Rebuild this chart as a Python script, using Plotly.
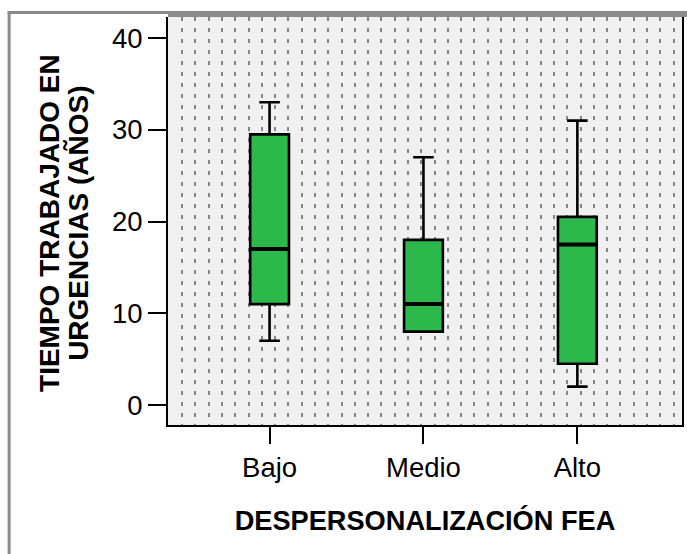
import plotly.graph_objects as go

# ---- data ----
categories = ["Bajo", "Medio", "Alto"]
lower_whisker = [7, 8, 2]
q1_values = [11, 8, 4.5]
median_values = [17, 11, 17.5]
q3_values = [29.5, 18, 20.5]
upper_whisker = [33, 27, 31]
y_ticks = [0, 10, 20, 30, 40]

x_title = "DESPERSONALIZACIÓN FEA"
y_title_lines = ["TIEMPO TRABAJADO EN", "URGENCIAS (AÑOS)"]

positions = list(range(len(categories)))

# ---- layout constants (styling) ----
W, H = 687, 554
ML, MR, MT, MB = 168, 3, 17, 129
PW, PH = W - ML - MR, H - MT - MB
FONT = "Liberation Sans, Arial, sans-serif"
GREEN = "#2db84b"
BOX_W = 0.252


def px_to_paper_x(px):
    return (px - ML) / PW


def px_to_paper_y(py):
    return (H - MB - py) / PH


fig = go.Figure()

fig.add_trace(go.Box(
    x=positions,
    q1=q1_values,
    median=median_values,
    q3=q3_values,
    lowerfence=lower_whisker,
    upperfence=upper_whisker,
    width=BOX_W,
    whiskerwidth=0.53,
    fillcolor=GREEN,
    line=dict(color="black", width=2.6),
    boxpoints=False,
    showlegend=False,
    hoverinfo="skip",
))

# thicker median line (degenerate box drawn at the median)
fig.add_trace(go.Box(
    x=positions,
    q1=median_values,
    median=median_values,
    q3=median_values,
    lowerfence=median_values,
    upperfence=median_values,
    width=BOX_W - 0.014,
    whiskerwidth=0,
    fillcolor="rgba(0,0,0,0)",
    line=dict(color="black", width=4),
    boxpoints=False,
    showlegend=False,
    hoverinfo="skip",
))

shapes = [
    # outer frame (left and top)
    dict(type="line", xref="paper", yref="paper",
         x0=px_to_paper_x(8.5), x1=px_to_paper_x(8.5),
         y0=px_to_paper_y(H + 5), y1=px_to_paper_y(11.5),
         line=dict(color="#8a8a8a", width=3), layer="above"),
    dict(type="line", xref="paper", yref="paper",
         x0=px_to_paper_x(7), x1=px_to_paper_x(W + 5),
         y0=px_to_paper_y(12.5), y1=px_to_paper_y(12.5),
         line=dict(color="#8a8a8a", width=3), layer="above"),
    # gray top border of the plot area
    dict(type="rect", xref="paper", yref="paper",
         x0=0, x1=px_to_paper_x(W + 5),
         y0=1, y1=px_to_paper_y(12),
         fillcolor="#8a8a8a", line=dict(width=0), layer="above"),
]

# y-axis title as two rotated lines (tighter line spacing than plotly's default)
y_title_centers_px = [48.5, 77.5]
annotations = [
    dict(text=line, textangle=-90, showarrow=False,
         xref="paper", yref="paper",
         x=px_to_paper_x(cx), y=px_to_paper_y(223),
         xanchor="center", yanchor="middle",
         font=dict(family=FONT, size=28, color="black", weight="bold"))
    for line, cx in zip(y_title_lines, y_title_centers_px)
]

fig.update_layout(
    width=W, height=H,
    margin=dict(l=ML, r=MR, t=MT, b=MB),
    paper_bgcolor="white",
    plot_bgcolor="#f0f0f0",
    font=dict(family=FONT, color="black", size=27),
    shapes=shapes,
    annotations=annotations,
    showlegend=False,
)

fig.update_xaxes(
    type="linear",
    range=[-0.66, 2.68],
    tickmode="array",
    tickvals=positions,
    ticktext=categories,
    ticks="outside", ticklen=17, tickwidth=2, tickcolor="black",
    tickfont=dict(family=FONT, size=27.5, color="black"),
    showgrid=False, zeroline=False,
    showline=True, linecolor="black", linewidth=2, mirror=False,
    minor=dict(tick0=-0.568, dtick=0.0863, showgrid=True,
               gridcolor="#858585", gridwidth=2, griddash="4px,7px",
               ticks=""),
    title=dict(text=x_title, standoff=29,
               font=dict(family=FONT, size=27.2, color="black", weight="bold")),
)

fig.update_yaxes(
    range=[-2.18, 42.29],
    tickmode="array",
    tickvals=y_ticks,
    ticks="outside", ticklen=18, tickwidth=2, tickcolor="black",
    tickfont=dict(family=FONT, size=27.5, color="black"),
    showgrid=False, zeroline=False,
    showline=True, linecolor="black", linewidth=2, mirror=True,
)

fig.write_html("out.html")
